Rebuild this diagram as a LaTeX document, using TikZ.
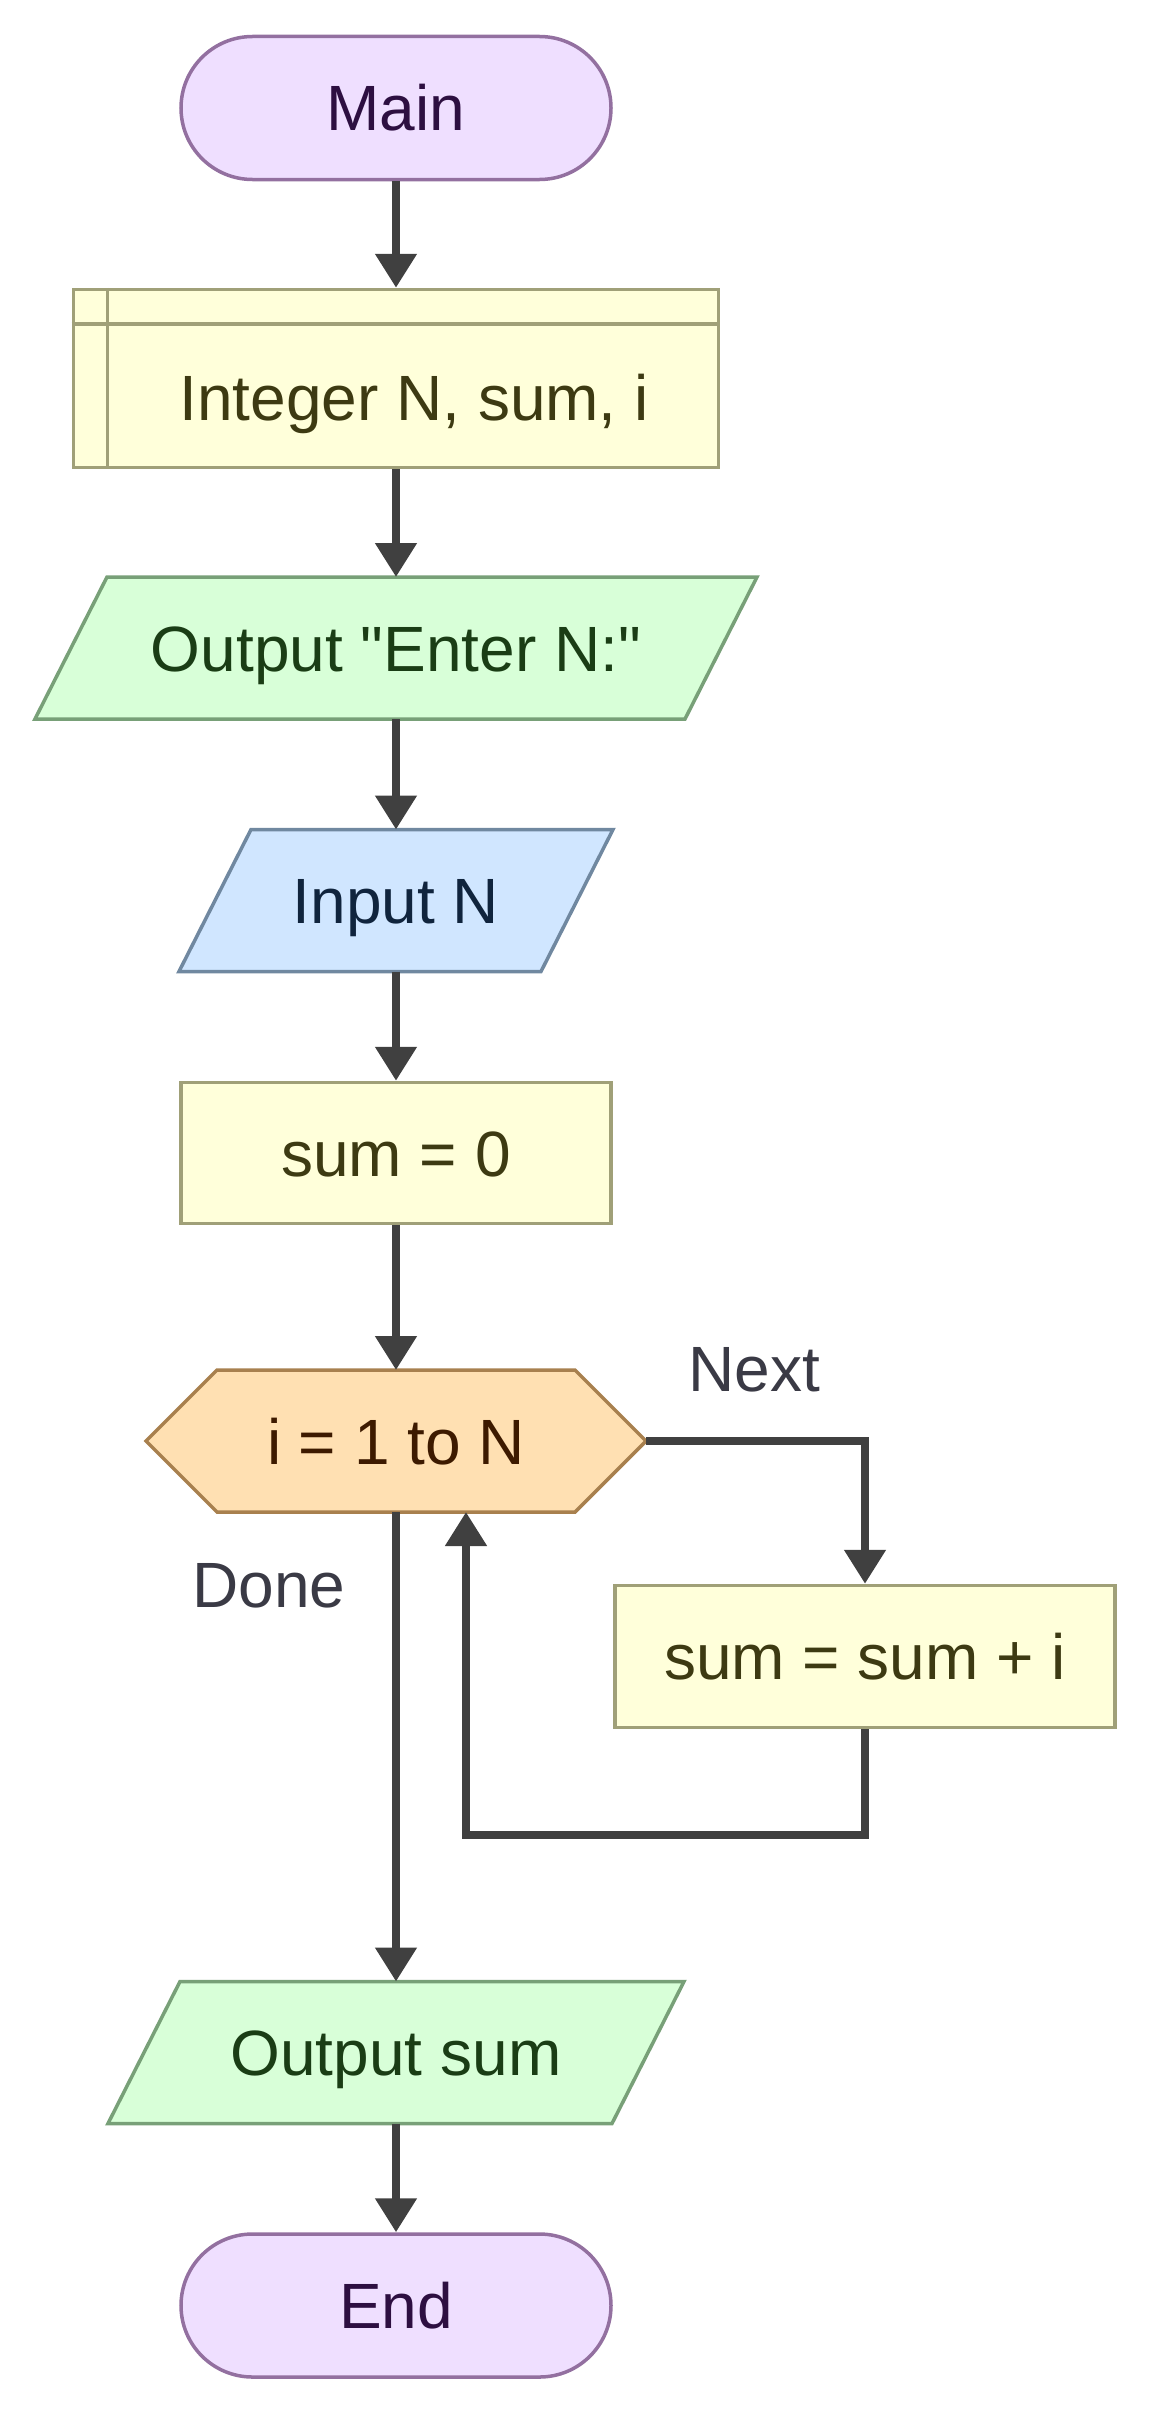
\documentclass[tikz,border=0pt]{standalone}
\usepackage{fontspec}
\setmainfont{Liberation Sans}
\usetikzlibrary{arrows.meta,calc}
\definecolor{termfill}{HTML}{EFDFFF}
\definecolor{termdraw}{HTML}{9370A0}
\definecolor{termtext}{HTML}{2D0F41}
\definecolor{procfill}{HTML}{FFFFDA}
\definecolor{procdraw}{HTML}{A0A078}
\definecolor{proctext}{HTML}{3D3A12}
\definecolor{outfill}{HTML}{D8FFD8}
\definecolor{outdraw}{HTML}{78A078}
\definecolor{outtext}{HTML}{1A3D15}
\definecolor{infill}{HTML}{D0E6FF}
\definecolor{indraw}{HTML}{7088A0}
\definecolor{intext}{HTML}{10243D}
\definecolor{hexfill}{HTML}{FFE0B2}
\definecolor{hexdraw}{HTML}{A8804E}
\definecolor{hextext}{HTML}{3D1A00}
\definecolor{flowcol}{HTML}{404040}
\definecolor{labcol}{HTML}{3A3A45}
\pgfdeclarelayer{bg}
\pgfsetlayers{bg,main}
\begin{document}
\begin{tikzpicture}[x=1bp,y=-1bp,
  every node/.style={font=\fontsize{64bp}{76bp}\selectfont, inner sep=0pt,
    text height=46bp, text depth=0bp},
  termbox/.style={draw=termdraw, fill=termfill, text=termtext, line width=3.5bp,
    minimum width=430bp, minimum height=143bp, rounded corners=71.5bp},
  procbox/.style={draw=procdraw, fill=procfill, text=proctext, line width=3.5bp,
    minimum height=142bp},
  shapebox/.style={draw=none, outer sep=0pt, minimum height=142bp},
  outline/.style={line width=3.5bp, line join=miter},
  flow/.style={draw=flowcol, line width=8bp,
    -{Triangle[width=40bp,length=34bp]}},
  lab/.style={text=labcol}
]
\useasboundingbox (0,0) rectangle (1153,2413);

% nodes
\node[termbox] (main) at (396,108) {Main};
\node[procbox, minimum width=645bp, minimum height=178bp] (decl) at (396,378.5) {};
\node[text=proctext] (decltxt) at (414,397) {Integer N, sum, i};
\node[shapebox, text=outtext, minimum width=650bp] (out1) at (396,648) {Output \textquotedbl Enter N:\textquotedbl};
\node[shapebox, text=intext, minimum width=362bp] (inp) at (396,900.5) {Input N};
\node[procbox, minimum width=430bp, minimum height=141bp] (sum0) at (396,1153) {sum = 0};
\node[shapebox, text=hextext, minimum width=500bp] (hex) at (396,1441) {i = 1 to N};
\node[procbox, minimum width=500bp] (sumi) at (865,1656.5) {sum = sum + i};
\node[shapebox, text=outtext, minimum width=504bp] (outsum) at (396,2052.5) {Output sum};
\node[termbox] (end) at (396,2305.5) {End};
\node[lab] (next) at (754,1368) {Next};
\node[lab] (done) at (269,1584) {Done};

% shape outlines
\begin{pgfonlayer}{bg}
\draw[outline, draw=outdraw, fill=outfill]
  ([xshift=36bp]out1.north west) -- ([xshift=36bp]out1.north east)
  -- ([xshift=-36bp]out1.south east) -- ([xshift=-36bp]out1.south west) -- cycle;
\draw[outline, draw=indraw, fill=infill]
  ([xshift=36bp]inp.north west) -- ([xshift=36bp]inp.north east)
  -- ([xshift=-36bp]inp.south east) -- ([xshift=-36bp]inp.south west) -- cycle;
\draw[outline, draw=outdraw, fill=outfill]
  ([xshift=36bp]outsum.north west) -- ([xshift=36bp]outsum.north east)
  -- ([xshift=-36bp]outsum.south east) -- ([xshift=-36bp]outsum.south west) -- cycle;
\draw[outline, draw=hexdraw, fill=hexfill]
  (hex.west) -- ([xshift=71bp]hex.north west) -- ([xshift=-71bp]hex.north east)
  -- (hex.east) -- ([xshift=-71bp]hex.south east) -- ([xshift=71bp]hex.south west) -- cycle;
\end{pgfonlayer}

% declaration inner lines
\draw[outline, draw=procdraw] ([xshift=36bp]decl.north west) -- ([xshift=36bp]decl.south west);
\draw[outline, draw=procdraw] ([yshift=-36bp]decl.north west) -- ([yshift=-36bp]decl.north east);

% connectors
\coordinate (hexin) at ([xshift=70bp]hex.south);
\coordinate (loopturn) at ([yshift=-106bp]sumi.south);
\draw[flow] (main) -- (decl);
\draw[flow] (decl) -- (out1);
\draw[flow] (out1) -- (inp);
\draw[flow] (inp) -- (sum0);
\draw[flow] (sum0) -- (hex);
\draw[flow] (hex.east) -| (sumi.north);
\draw[flow] (sumi.south) -- (loopturn) -| (hexin);
\draw[flow] (hex.south) -- (outsum.north);
\draw[flow] (outsum) -- (end);
\end{tikzpicture}
\end{document}
